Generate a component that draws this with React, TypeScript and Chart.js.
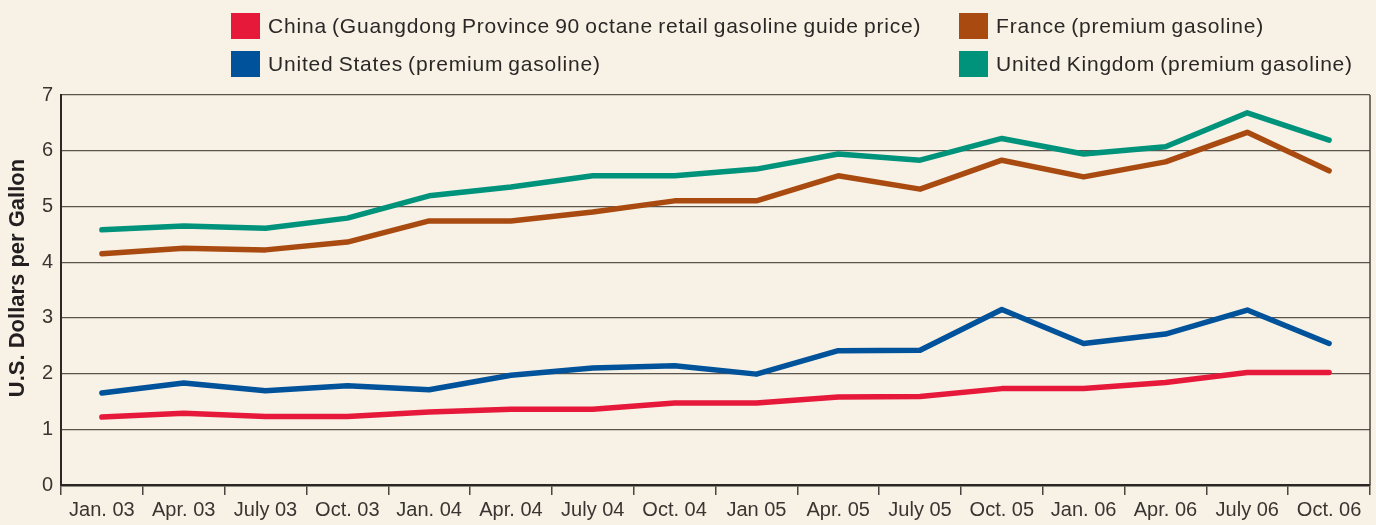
import React, { useEffect, useRef } from "react";
import { Chart, registerables } from "chart.js";

Chart.register(...registerables);

const categories = [
  "Jan. 03", "Apr. 03", "July 03", "Oct. 03",
  "Jan. 04", "Apr. 04", "July 04", "Oct. 04",
  "Jan 05", "Apr. 05", "July 05", "Oct. 05",
  "Jan. 06", "Apr. 06", "July 06", "Oct. 06",
];

const chinaValues = [1.22, 1.29, 1.23, 1.23, 1.31, 1.36, 1.36, 1.47, 1.47, 1.58, 1.59, 1.73, 1.73, 1.84, 2.02, 2.02];
const usValues = [1.65, 1.83, 1.69, 1.78, 1.71, 1.97, 2.1, 2.14, 1.99, 2.41, 2.42, 3.15, 2.54, 2.71, 3.14, 2.54];
const franceValues = [4.15, 4.25, 4.22, 4.36, 4.74, 4.74, 4.9, 5.1, 5.1, 5.55, 5.31, 5.83, 5.53, 5.8, 6.33, 5.64];
const ukValues = [4.58, 4.65, 4.61, 4.79, 5.19, 5.35, 5.55, 5.55, 5.67, 5.94, 5.83, 6.22, 5.94, 6.07, 6.68, 6.19];

const seriesNames = [
  "China (Guangdong Province 90 octane retail gasoline guide price)",
  "United States (premium gasoline)",
  "France (premium gasoline)",
  "United Kingdom (premium gasoline)",
];
const seriesColors = ["#e6193a", "#00529b", "#a94b10", "#00937c"];
const yTicks = [0, 1, 2, 3, 4, 5, 6, 7];
const yTitle = "U.S. Dollars per Gallon";

const BG = "#f7f2e5";
const TEXT = "#2b2727";
const FONT = "'Liberation Sans', Arial, sans-serif";

export default function App() {
  const canvasRef = useRef<HTMLCanvasElement | null>(null);

  useEffect(() => {
    document.body.style.margin = "0";
    const canvas = canvasRef.current;
    if (!canvas) return;

    const framePlugin = {
      id: "frame",
      afterDraw(chart: any) {
        const { ctx, chartArea } = chart;
        ctx.save();
        ctx.strokeStyle = "#4a4540";
        ctx.lineWidth = 1.5;
        ctx.beginPath();
        ctx.moveTo(chartArea.right, chartArea.top);
        ctx.lineTo(chartArea.right, chartArea.bottom);
        ctx.stroke();
        ctx.translate(18, 278);
        ctx.rotate(-Math.PI / 2);
        ctx.font = `bold 22px ${FONT}`;
        ctx.fillStyle = "#231f20";
        ctx.textAlign = "center";
        ctx.textBaseline = "middle";
        ctx.fillText(yTitle, 0, 0);
        ctx.restore();
      },
    };

    const allValues = [chinaValues, usValues, franceValues, ukValues];

    const chart = new Chart(canvas, {
      type: "line",
      data: {
        labels: categories,
        datasets: allValues.map((vals, i) => ({
          label: seriesNames[i],
          data: vals,
          borderColor: seriesColors[i],
          backgroundColor: seriesColors[i],
          borderWidth: 5.5,
          pointRadius: 0,
          tension: 0,
          borderCapStyle: "round",
          borderJoinStyle: "round",
          fill: false,
        })),
      },
      options: {
        animation: false,
        responsive: false,
        devicePixelRatio: 1,
        layout: { padding: { top: 95, right: 6, left: 0, bottom: 0 } },
        plugins: {
          legend: { display: false },
          tooltip: { enabled: false },
          title: { display: false },
        },
        scales: {
          x: {
            type: "category",
            offset: true,
            grid: {
              display: true,
              drawOnChartArea: false,
              drawTicks: true,
              tickLength: 10,
              color: "#4a4540",
              lineWidth: 1.5,
              offset: true,
            },
            border: { display: true, color: "#2b2724", width: 2.5 },
            ticks: {
              autoSkip: false,
              maxRotation: 0,
              minRotation: 0,
              padding: 3,
              color: "#3a3532",
              font: { family: FONT, size: 20 },
            },
            afterFit(scale: any) {
              scale.height = 40;
            },
          },
          y: {
            min: 0,
            max: 7,
            afterBuildTicks(scale: any) {
              scale.ticks = yTicks.map((v) => ({ value: v }));
            },
            grid: {
              color: "#5a544c",
              lineWidth: 1.2,
              drawTicks: false,
            },
            border: { display: true, color: "#2b2724", width: 2 },
            ticks: {
              padding: 8,
              color: "#3a3532",
              font: { family: FONT, size: 20 },
            },
            afterFit(scale: any) {
              scale.width = 61;
            },
          },
        },
      },
      plugins: [framePlugin],
    } as any);

    return () => chart.destroy();
  }, []);

  const legendItems = [
    { x: 231, y: 13, i: 0 },
    { x: 231, y: 51, i: 1 },
    { x: 959, y: 13, i: 2 },
    { x: 959, y: 51, i: 3 },
  ];

  return (
    <div
      style={{
        position: "fixed",
        left: 0,
        top: 0,
        width: 1376,
        height: 525,
        background: BG,
        overflow: "hidden",
      }}
    >
      <canvas
        ref={canvasRef}
        width={1376}
        height={525}
        style={{ position: "absolute", left: 0, top: 0, width: 1376, height: 525 }}
      />
      {legendItems.map((it) => (
        <div
          key={it.i}
          style={{
            position: "absolute",
            left: it.x,
            top: it.y,
            height: 26,
            display: "flex",
            alignItems: "center",
            whiteSpace: "nowrap",
          }}
        >
          <div style={{ width: 29, height: 26, background: seriesColors[it.i] }} />
          <span
            style={{
              marginLeft: 8,
              fontFamily: FONT,
              fontSize: 21,
              lineHeight: "26px",
              color: TEXT,
              letterSpacing: "0.8px",
              wordSpacing: "-1.5px",
            }}
          >
            {seriesNames[it.i]}
          </span>
        </div>
      ))}
    </div>
  );
}
